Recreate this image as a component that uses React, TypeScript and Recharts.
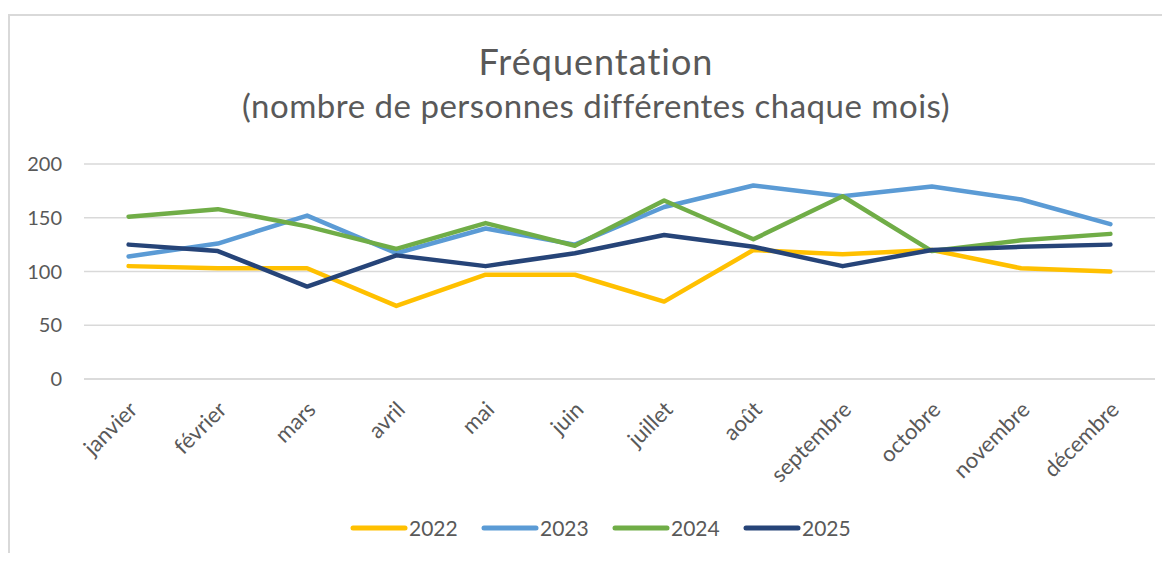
import React from 'react';
import { LineChart, Line, XAxis, YAxis, CartesianGrid, Legend } from 'recharts';

const months = ['janvier', 'février', 'mars', 'avril', 'mai', 'juin', 'juillet', 'août', 'septembre', 'octobre', 'novembre', 'décembre'];
const visits2022 = [105, 103, 103, 68, 97, 97, 72, 120, 116, 120, 103, 100];
const visits2023 = [114, 126, 152, 117, 140, 125, 160, 180, 170, 179, 167, 144];
const visits2024 = [151, 158, 142, 121, 145, 124, 166, 130, 170, 119, 129, 135];
const visits2025 = [125, 119, 86, 115, 105, 117, 134, 123, 105, 120, 123, 125];
const yTicks = [0, 50, 100, 150, 200];

const series = [
  { key: '2022', color: '#FFC000' },
  { key: '2023', color: '#5B9BD5' },
  { key: '2024', color: '#70AD47' },
  { key: '2025', color: '#264478' },
];

const FONT = 'Lato, "Open Sans", sans-serif';
const TEXT = '#595959';

const data = months.map((m, i) => ({
  month: m,
  '2022': visits2022[i],
  '2023': visits2023[i],
  '2024': visits2024[i],
  '2025': visits2025[i],
}));

const MonthTick = (props: any) => {
  const { x, y, payload } = props;
  return (
    <g transform={`translate(${x + 10},${y + 32})`}>
      <text x={0} y={0} textAnchor="end" transform="rotate(-45)" fill={TEXT} fontSize={22} fontFamily={FONT}>
        {payload.value}
      </text>
    </g>
  );
};

const LegendRow = () => (
  <div style={{ display: 'flex', justifyContent: 'center', fontFamily: FONT, fontSize: 21, color: TEXT }}>
    {series.map((s) => (
      <div key={s.key} style={{ display: 'flex', alignItems: 'center', width: 131 }}>
        <svg width={60} height={10}>
          <line x1={4} y1={5} x2={56} y2={5} stroke={s.color} strokeWidth={5} strokeLinecap="round" />
        </svg>
        <span>{s.key}</span>
      </div>
    ))}
  </div>
);

export default function App() {
  return (
    <div style={{ position: 'relative', width: 1170, height: 561, margin: -8, background: '#fff', overflow: 'hidden' }}>
      <div style={{ position: 'absolute', left: 8, top: 14, width: 1200, height: 600, borderLeft: '2px solid #d9d9d9', borderTop: '2px solid #d9d9d9' }} />
      <svg width={1170} height={140} style={{ position: 'absolute', left: 0, top: 0 }}>
        <text x={596} y={75} textAnchor="middle" fill={TEXT} fontSize={36} fontFamily={FONT} letterSpacing={1}>Fréquentation</text>
        <text x={596} y={118} textAnchor="middle" fill={TEXT} fontSize={33} fontFamily={FONT} letterSpacing={0.5}>(nombre de personnes différentes chaque mois)</text>
      </svg>
      <div style={{ position: 'absolute', left: 0, top: 0 }}>
        <LineChart width={1170} height={561} data={data} margin={{ top: 164, right: 15, left: 0, bottom: 62 }}>
          <CartesianGrid horizontal vertical={false} stroke="#d9d9d9" strokeWidth={1.5} />
          <XAxis
            dataKey="month"
            height={120}
            padding={{ left: 44.6, right: 44.6 }}
            axisLine={{ stroke: '#d9d9d9', strokeWidth: 1.5 }}
            tickLine={false}
            tickSize={0}
            tickMargin={0}
            interval={0}
            tick={<MonthTick />}
          />
          <YAxis
            width={84}
            domain={[0, 200]}
            ticks={yTicks}
            axisLine={false}
            tickLine={false}
            tickSize={0}
            tickMargin={22}
            tick={{ fill: TEXT, fontSize: 20, fontFamily: FONT }}
          />
          {series.map((s) => (
            <Line
              key={s.key}
              type="linear"
              dataKey={s.key}
              stroke={s.color}
              strokeWidth={4.5}
              strokeLinecap="round"
              strokeLinejoin="round"
              dot={false}
              activeDot={false}
              isAnimationActive={false}
            />
          ))}
          <Legend
            layout="horizontal"
            verticalAlign="middle"
            align="center"
            wrapperStyle={{ top: 515, left: 15, width: 1192 }}
            content={<LegendRow />}
          />
        </LineChart>
      </div>
    </div>
  );
}
